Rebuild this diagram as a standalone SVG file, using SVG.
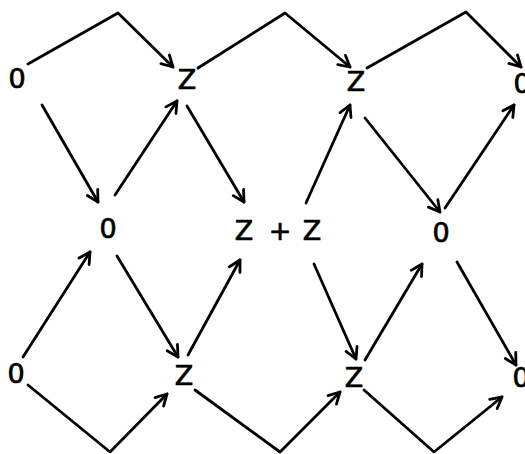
<svg xmlns="http://www.w3.org/2000/svg" width="525" height="454" viewBox="0 0 525 454">
<style>
.bg{fill:#ffffff}
.c{fill:none;stroke:#000;stroke-width:2.8;stroke-linecap:round;stroke-linejoin:round;marker-end:url(#ah)}
.t{font-family:"DejaVu Sans",sans-serif;font-size:27px;fill:#000;stroke:#000;stroke-width:0.7;text-anchor:middle}
</style>
<defs>
<marker id="ah" markerUnits="userSpaceOnUse" markerWidth="20" markerHeight="20" refX="0" refY="0" viewBox="-14 -10 20 20" orient="auto">
<path d="M-11,-6 L0,0 L-11,6" fill="none" stroke="#000" stroke-width="2.8" stroke-linecap="round" stroke-linejoin="round"/>
</marker>
</defs>
<rect class="bg" x="0" y="0" width="525" height="454"/>
<g id="connectors">
<polyline class="c" points="28,64 118,13 173,67"/>
<polyline class="c" points="198,68 285,13 350,67"/>
<polyline class="c" points="367,68 466,12 521,67"/>
<polyline class="c" points="42,105 98,202"/>
<polyline class="c" points="115,195 177,101"/>
<polyline class="c" points="187,106 244,202"/>
<polyline class="c" points="306,203 350,105"/>
<polyline class="c" points="365,118 440,212"/>
<polyline class="c" points="445,208 514,105"/>
<polyline class="c" points="23,357 90,252"/>
<polyline class="c" points="117,256 178,357"/>
<polyline class="c" points="188,355 240,260"/>
<polyline class="c" points="28,385 110,452 167,394"/>
<polyline class="c" points="195,390 280,452 340,392"/>
<polyline class="c" points="314,264 356,359"/>
<polyline class="c" points="365,360 422,264"/>
<polyline class="c" points="457,262 516,365"/>
<polyline class="c" points="364,390 434,452 502,397"/>
</g>
<g id="n_top_0_left"><text class="t" x="17" y="88">0</text></g>
<g id="n_top_z1"><text class="t" x="187" y="89">Z</text></g>
<g id="n_top_z2"><text class="t" x="356" y="91">Z</text></g>
<g id="n_top_0_right"><text class="t" x="522" y="93">0</text></g>
<g id="n_mid_0_left"><text class="t" x="108" y="238">0</text></g>
<g id="n_mid_zz"><text class="t" y="240"><tspan x="244">Z</tspan><tspan x="280">+</tspan><tspan x="312">Z</tspan></text></g>
<g id="n_mid_0_right"><text class="t" x="441" y="242">0</text></g>
<g id="n_bot_0_left"><text class="t" x="16" y="383">0</text></g>
<g id="n_bot_z1"><text class="t" x="184" y="385">Z</text></g>
<g id="n_bot_z2"><text class="t" x="354" y="387">Z</text></g>
<g id="n_bot_0_right"><text class="t" x="521" y="387">0</text></g>
</svg>
